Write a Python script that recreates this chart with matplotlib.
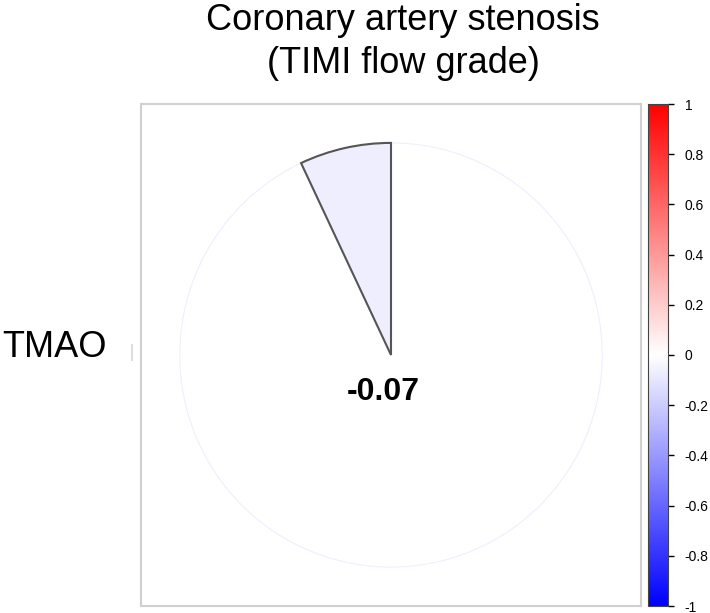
from matplotlib import pyplot as plt
from matplotlib.patches import Wedge, Circle
import matplotlib as mpl

rows = ["TMAO"]
cols = ["Coronary artery stenosis\n(TIMI flow grade)"]
corr = [-0.07]
cbar_ticks = [-1, -0.8, -0.6, -0.4, -0.2, 0, 0.2, 0.4, 0.6, 0.8, 1]

plt.rcParams["font.family"] = ["Liberation Sans", "DejaVu Sans"]
fig = plt.figure(figsize=(7.10, 6.13), dpi=100)
cmap = plt.get_cmap("bwr")
norm = mpl.colors.Normalize(vmin=-1, vmax=1)

ax = fig.add_axes([141 / 710, 7 / 613, 500 / 710, 502 / 613])
ax.set_xlim(-1, 1)
ax.set_ylim(-1, 1)
for s in ax.spines.values():
    s.set_color("#d0d0d0")
    s.set_linewidth(1.5)
ax.set_xticks([])
ax.set_yticks([])

# row label and the small grey mark next to it
ax.text(-0.068, 0.514, rows[0], transform=ax.transAxes, ha="right",
        va="center", fontsize=26)
ax.plot([-0.018, -0.018], [0.49, 0.52], transform=ax.transAxes,
        clip_on=False, color="#dddddd", lw=1.5)

r = 0.845
val = corr[0]
col = cmap(norm(val))
ax.add_patch(Circle((0, 0), r, fill=False, edgecolor=col, linewidth=0.8))
ax.add_patch(Wedge((0, 0), r, 90, 90 + abs(val) * 360, facecolor=col,
                   edgecolor="#555555", linewidth=1.5))
ax.text(-0.03, -0.148, f"{val:.2f}", ha="center", va="center", fontsize=23,
        fontweight="bold")

fig.text(403 / 710, 1 - 81 / 613, cols[0], ha="center", va="bottom",
         multialignment="center", fontsize=26, linespacing=1.3)

cax = fig.add_axes([648 / 710, 7 / 613, 20 / 710, 502 / 613])
cb = mpl.colorbar.ColorbarBase(cax, cmap=cmap, norm=norm, ticks=cbar_ticks)
cb.outline.set_edgecolor("#444444")
cax.set_yticklabels([f"{t:g}" for t in cbar_ticks])
cax.tick_params(labelsize=10, length=4, width=1, pad=8)

plt.savefig("out.png", dpi=100)
